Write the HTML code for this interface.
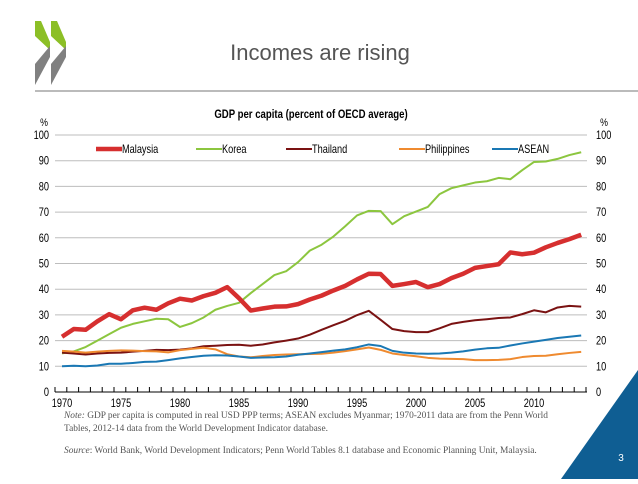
<!DOCTYPE html>
<html><head><meta charset="utf-8"><style>
html,body{margin:0;padding:0;background:#fff;}
body{width:638px;height:479px;overflow:hidden;position:relative;font-family:"Liberation Sans",sans-serif;}
svg text{font-family:"Liberation Sans",sans-serif;}
.note{position:absolute;left:64px;font-family:"Liberation Serif",serif;font-size:9.4px;color:#555;line-height:13px;white-space:nowrap;}
</style></head><body>
<svg id="chart" width="638" height="479" viewBox="0 0 638 479" xmlns="http://www.w3.org/2000/svg">
 <g>
  <polygon points="35,21 41,21 50,42 50,50 35,36" fill="#8cbf26"/>
  <polygon points="35,64 50,46 50,57 35,85" fill="#808080"/>
  <polygon points="51,21 57,21 66,42 66,50 51,36" fill="#8cbf26"/>
  <polygon points="51,64 66,46 66,57 51,85" fill="#808080"/>
 </g>
 <text x="320" y="60" text-anchor="middle" font-size="22" fill="#555">Incomes are rising</text>
 <line x1="35" y1="91" x2="638" y2="91" stroke="#777" stroke-width="1"/>
 <text transform="translate(311,118) scale(0.8,1)" text-anchor="middle" font-size="12" font-weight="bold" fill="#000">GDP per capita (percent of OECD average)</text>
 <text transform="translate(44,126) scale(0.8,1)" text-anchor="middle" font-size="11" fill="#000">%</text>
 <text transform="translate(604,126) scale(0.8,1)" text-anchor="middle" font-size="11" fill="#000">%</text>
 <g id="grid"></g><g id="axes"></g><g id="series"></g><g id="legend"></g>
 <polygon points="561,479 638,370 638,479" fill="#0f5e93"/>
 <text x="621" y="461" text-anchor="middle" font-size="10" fill="#fff">3</text>
</svg>
<div class="note" style="top:410px"><i>Note:</i> GDP per capita is computed in real USD PPP terms; ASEAN excludes Myanmar; 1970-2011 data are from the Penn World<br>Tables, 2012-14 data from the World Development Indicator database.</div>
<div class="note" style="top:445px"><i>Source</i>: World Bank, World Development Indicators; Penn World Tables 8.1 database and Economic Planning Unit, Malaysia.</div>
<script>
const years=[];for(let y=1970;y<=2014;y++)years.push(y);
const yTicks=[0,10,20,30,40,50,60,70,80,90,100];
const xTickLabels=[1970,1975,1980,1985,1990,1995,2000,2005,2010];
const seriesNames=["Malaysia","Korea","Thailand","Philippines","ASEAN"];
const malaysia=[21.5,24.5,24.2,27.5,30.3,28.3,31.8,32.8,32,34.5,36.3,35.6,37.3,38.6,40.8,36.5,31.7,32.5,33.2,33.3,34.2,36,37.5,39.5,41.3,43.8,46,45.9,41.3,42,42.8,40.8,42,44.3,46,48.3,49,49.7,54.3,53.6,54.2,56.3,58,59.5,61.2];
const korea=[15,15.8,17.5,20,22.5,25,26.5,27.5,28.5,28.3,25.3,26.8,29,32,33.5,34.7,38.5,42,45.5,47,50.5,55,57.3,60.5,64.5,68.7,70.5,70.4,65.3,68.4,70.2,72,77,79.3,80.4,81.5,82,83.3,82.8,86.3,89.5,89.7,90.7,92.2,93.3];
const thailand=[15.3,15,14.6,15,15.2,15.3,15.7,16,16.4,16.3,16.5,17,17.8,18,18.3,18.4,18,18.5,19.3,20,20.8,22.3,24.2,26,27.7,29.9,31.6,28.1,24.5,23.7,23.3,23.3,24.8,26.5,27.3,27.9,28.3,28.8,29,30.3,31.8,31,32.9,33.5,33.2];
const philippines=[16,15.7,15.3,15.7,16,16.2,16.1,15.9,15.8,15.4,16.3,16.8,17.2,16.6,14.7,13.8,13.5,14,14.4,14.6,14.7,14.8,14.9,15.3,15.9,16.6,17.3,16.4,15,14.4,13.9,13.3,13,12.9,12.8,12.4,12.4,12.5,12.8,13.6,14,14.1,14.7,15.2,15.6];
const asean=[10,10.2,10,10.3,11,11,11.3,11.7,11.8,12.4,13.1,13.6,14.1,14.3,14.2,13.8,13.3,13.4,13.5,13.8,14.5,15,15.5,16.1,16.6,17.4,18.5,17.9,16,15.3,15,14.9,15,15.3,15.8,16.5,17,17.2,18.1,18.9,19.6,20.3,21,21.5,22];

const NS="http://www.w3.org/2000/svg";
const X0=62,XS=11.8,Y0=392,YS=2.57,XL=55,XR=587;
const xPos=y=>X0+(y-1970)*XS;
const yPos=v=>Y0-v*YS;
function mk(tag,attrs,parent){const e=document.createElementNS(NS,tag);for(const k in attrs)e.setAttribute(k,attrs[k]);parent.appendChild(e);return e;}
function txt(x,y,s,anchor,parent){const t=mk('text',{transform:'translate('+x+','+y+') scale(0.8,1)','text-anchor':anchor,'font-size':11.5,fill:'#000'},parent);t.textContent=s;return t;}
const grid=document.getElementById('grid'),axes=document.getElementById('axes'),ser=document.getElementById('series'),leg=document.getElementById('legend');
yTicks.forEach(v=>{
 if(v>0){const l=mk('line',{x1:XL,x2:XR,y1:yPos(v),y2:yPos(v),stroke:'#bdbdbd','stroke-width':1},grid);
 
 }
 const t=txt(49,yPos(v)+4,v,'end',axes);
 
 
 const t2=txt(596,yPos(v)+4,v,'start',axes);
 
 
});
const ax=mk('line',{x1:XL,x2:XR,y1:Y0,y2:Y0,stroke:'#000','stroke-width':1},axes);


for(let i=0;i<=years.length;i++){const x=XL+i*XS;mk('line',{x1:x,x2:x,y1:Y0,y2:Y0-5,stroke:'#000','stroke-width':1},axes);}
xTickLabels.forEach(yr=>{const t=txt(xPos(yr),Y0+15,yr,'middle',axes);
 
 });
const data=[malaysia,korea,thailand,philippines,asean];
const colors=['#d62f2f','#8cc63f','#7a1212','#ef8a2f','#1a78b4'];
const widths=[4.5,2,2,2,2];
const order=[1,2,3,4,0];
order.forEach(i=>{
 const p=mk('polyline',{points:data[i].map((v,j)=>xPos(years[j])+','+yPos(v)).join(' '),fill:'none',stroke:colors[i],'stroke-width':widths[i],'stroke-linejoin':'round'},ser);
 
 
});
const legX=[96,196,286,399,492];
seriesNames.forEach((n,i)=>{
 const g=mk('g',{},leg);
 
 
 mk('line',{x1:legX[i],x2:legX[i]+26,y1:149,y2:149,stroke:colors[i],'stroke-width':widths[i]},g);
 txt(legX[i]+26,153,n,'start',g);
});
</script>
</body></html>
